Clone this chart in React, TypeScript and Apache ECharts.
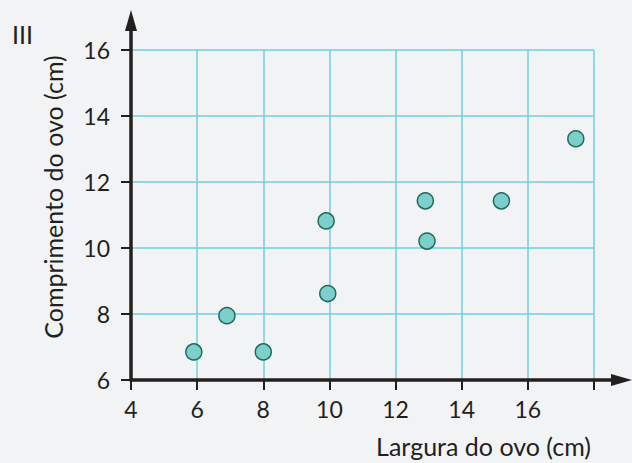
import React, { useEffect, useRef } from "react";
import * as echarts from "echarts";

const widths = [5.9, 6.9, 8.0, 9.9, 9.95, 12.9, 12.95, 15.2, 17.45];
const lengths = [6.85, 7.95, 6.85, 10.82, 8.62, 11.43, 10.21, 11.43, 13.31];
const xTicks = [4, 6, 8, 10, 12, 14, 16];
const xName = "Largura do ovo (cm)";
const yName = "Comprimento do ovo (cm)";
const panelLabel = "III";

const FONT = "Lato";
const INK = "#231f20";
const GRID = "#6fcfdd";

export default function App() {
  const ref = useRef<HTMLDivElement>(null);
  useEffect(() => {
    document.body.style.margin = "0";
    if (!ref.current) return;
    const chart = echarts.init(ref.current, null, { renderer: "svg" });
    chart.setOption({
      animation: false,
      backgroundColor: "#f2f3f5",
      grid: { left: 131, top: 50, right: 38, bottom: 83 },
      xAxis: {
        type: "value",
        min: 4,
        max: 18,
        interval: 2,
        axisLine: { show: false },
        axisTick: { show: true, length: 10, lineStyle: { color: INK, width: 2 } },
        axisLabel: {
          color: INK,
          fontFamily: FONT,
          fontSize: 23,
          margin: 17,
          formatter: (v: number) => (xTicks.includes(v) ? String(v) : ""),
        },
        splitLine: { show: true, lineStyle: { color: GRID, width: 1.5 } },
      },
      yAxis: {
        type: "value",
        min: 6,
        max: 16,
        interval: 2,
        axisLine: { show: false },
        axisTick: { show: true, length: 10, lineStyle: { color: INK, width: 2 } },
        axisLabel: { color: INK, fontFamily: FONT, fontSize: 23, margin: 21 },
        splitLine: { show: true, lineStyle: { color: GRID, width: 1.5 } },
      },
      graphic: [
        { type: "line", shape: { x1: 131, y1: 380, x2: 614, y2: 380 }, style: { stroke: INK, lineWidth: 3.5 }, z: 100 },
        { type: "polygon", shape: { points: [[632, 380], [611, 374], [611, 386]] }, style: { fill: INK }, z: 100 },
        { type: "line", shape: { x1: 131, y1: 381.5, x2: 131, y2: 28 }, style: { stroke: INK, lineWidth: 3.5 }, z: 100 },
        { type: "polygon", shape: { points: [[131, 10], [125, 31], [137, 31]] }, style: { fill: INK }, z: 100 },
        {
          type: "text",
          x: 12,
          y: 34,
          style: { text: panelLabel, fill: INK, font: `25px "${FONT}"`, verticalAlign: "middle" },
        },
        {
          type: "text",
          x: 591,
          y: 446,
          style: { text: xName, fill: INK, font: `25px "${FONT}"`, align: "right", verticalAlign: "middle" },
        },
        {
          type: "text",
          x: 53,
          y: 197,
          rotation: Math.PI / 2,
          style: { text: yName, fill: INK, font: `25px "${FONT}"`, align: "center", verticalAlign: "middle" },
        },
      ],
      series: [
        {
          type: "scatter",
          data: widths.map((w, i) => [w, lengths[i]]),
          symbolSize: 16,
          itemStyle: { color: "#7dcfcb", borderColor: "#1e6b5c", borderWidth: 1.5, opacity: 1 },
          z: 5,
        },
      ],
    });
    return () => chart.dispose();
  }, []);
  return <div ref={ref} style={{ width: 632, height: 463 }} />;
}
